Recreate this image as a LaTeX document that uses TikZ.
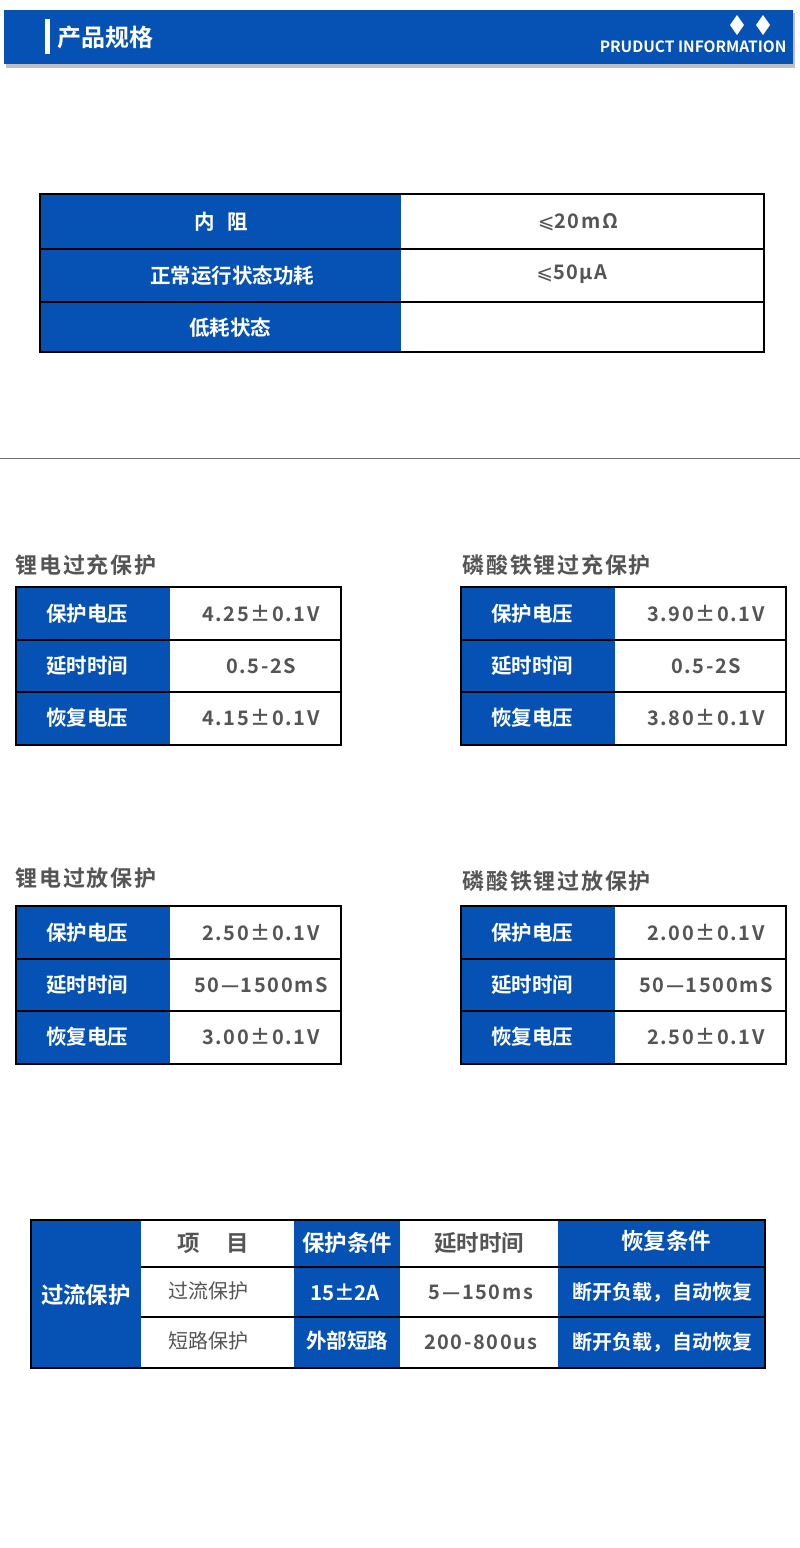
\documentclass[tikz,border=0pt]{standalone}
\usepackage{fontspec}
\setmainfont{Noto Sans CJK SC}[BoldFont={* Bold}]
\newfontfamily\cjkb{Noto Sans CJK SC Bold}
\newfontfamily\cjkbs{Noto Sans CJK SC Bold}[LetterSpace=8]
\newfontfamily\djv{DejaVu Sans}
\definecolor{bl}{HTML}{0652B4}
\definecolor{tg}{HTML}{555555}
\tikzset{wt/.style={text=white,font=\cjkb\fontsize{20.5}{22}\selectfont},
 gt/.style={text=tg,font=\cjkbs\fontsize{20}{22}\selectfont},
 ttl/.style={text=tg,font=\cjkbs\fontsize{22}{24}\selectfont,anchor=west}}
\newcommand\smalltab[8]{%
\begin{scope}[shift={(#1,#2)}]
\fill[bl] (0,0) rectangle (154,158);
\draw[line width=1.6pt] (0,0) rectangle (325,158);
\draw[line width=1.6pt] (0,53)--(325,53) (0,105)--(325,105);
\node[wt] (a#1#2) at (71,27) {#3}; \node[gt] (b#1#2) at (245,27) {#4};
\node[wt] (c#1#2) at (71,79) {#5}; \node[gt] (d#1#2) at (245,79) {#6};
\node[wt] (e#1#2) at (71,131) {#7}; \node[gt] (f#1#2) at (245,131) {#8};
\end{scope}}
\begin{document}
\begin{tikzpicture}[x=1pt,y=-1pt]
\useasboundingbox (0,0) rectangle (800,1548);
\fill[white] (0,0) rectangle (800,1548);
% header
\fill[black!25] (6,13) rectangle (795,68);
\fill[bl] (4,10) rectangle (793,64);
\fill[white] (45,19) rectangle (50,54);
\node[anchor=west,text=white,font=\cjkb\fontsize{24}{26}\selectfont] (h) at (54,37) {产品规格};
\fill[white] (737,15)--(744,25)--(737,35)--(730,25)--cycle;
\fill[white] (763,15)--(770,25)--(763,35)--(756,25)--cycle;
\node[anchor=east,text=white,font=\cjkb\fontsize{15.5}{16}\selectfont] (pi) at (790,47) {PRUDUCT INFORMATION};
% top table
\fill[bl] (40,194) rectangle (401,352);
\draw[line width=1.6pt] (40,194) rectangle (764,352);
\draw[line width=1.6pt] (40,249)--(764,249) (40,302)--(764,302);
\node[wt] (t1) at (221,222) {内\hspace{0.6em}阻};
\node[gt] (v1) at (578,222) {{\djv ⩽}20mΩ};
\node[wt] (t2) at (232,276) {正常运行状态功耗};
\node[gt] (v2) at (572,274) {{\djv ⩽}50μA};
\node[wt] (t3) at (230,328) {低耗状态};
\draw[black!55,line width=1pt] (0,458)--(800,458);
% titles
\node[ttl] (s1) at (12,565) {锂电过充保护};
\node[ttl] (s2) at (459,565) {磷酸铁锂过充保护};
\node[ttl] (s3) at (12,878) {锂电过放保护};
\node[ttl] (s4) at (459,881) {磷酸铁锂过放保护};
\smalltab{16}{587}{保护电压}{4.25±0.1V}{延时时间}{0.5-2S}{恢复电压}{4.15±0.1V}
\smalltab{461}{587}{保护电压}{3.90±0.1V}{延时时间}{0.5-2S}{恢复电压}{3.80±0.1V}
\smalltab{16}{906}{保护电压}{2.50±0.1V}{延时时间}{50—1500mS}{恢复电压}{3.00±0.1V}
\smalltab{461}{906}{保护电压}{2.00±0.1V}{延时时间}{50—1500mS}{恢复电压}{2.50±0.1V}
% bottom table
\fill[bl] (31,1220) rectangle (141,1368);
\fill[bl] (294,1220) rectangle (400,1368);
\fill[bl] (558,1220) rectangle (765,1368);
\draw[line width=1.6pt] (31,1220) rectangle (765,1368);
\draw[line width=1.4pt] (141,1267)--(765,1267) (141,1317)--(765,1317);
\node[wt,font=\cjkb\fontsize{22.5}{24}\selectfont] (gl) at (86,1295) {过流保护};
\node[gt,font=\cjkb\fontsize{22.5}{24}\selectfont] (g1) at (213,1243) {项\hspace{1.2em}目};
\node[wt,font=\cjkb\fontsize{22.5}{24}\selectfont] (g2) at (347,1243) {保护条件};
\node[gt,font=\cjkb\fontsize{22.5}{24}\selectfont] (g3) at (479,1243) {延时时间};
\node[wt,font=\cjkb\fontsize{22.5}{24}\selectfont] (g4) at (666,1241) {恢复条件};
\node[gt,font=\fontsize{20}{22}\selectfont] (r1) at (208,1291) {过流保护};
\node[wt] (r2) at (345,1292) {15±2A};
\node[gt] (r3) at (481,1292) {5—150ms};
\node[wt,font=\cjkb\fontsize{20}{22}\selectfont] (r4) at (662,1292) {断开负载，自动恢复};
\node[gt,font=\fontsize{20}{22}\selectfont] (q1) at (208,1341) {短路保护};
\node[wt] (q2) at (347,1341) {外部短路};
\node[gt] (q3) at (481,1342) {200-800us};
\node[wt,font=\cjkb\fontsize{20}{22}\selectfont] (q4) at (662,1342) {断开负载，自动恢复};
\end{tikzpicture}
\end{document}
